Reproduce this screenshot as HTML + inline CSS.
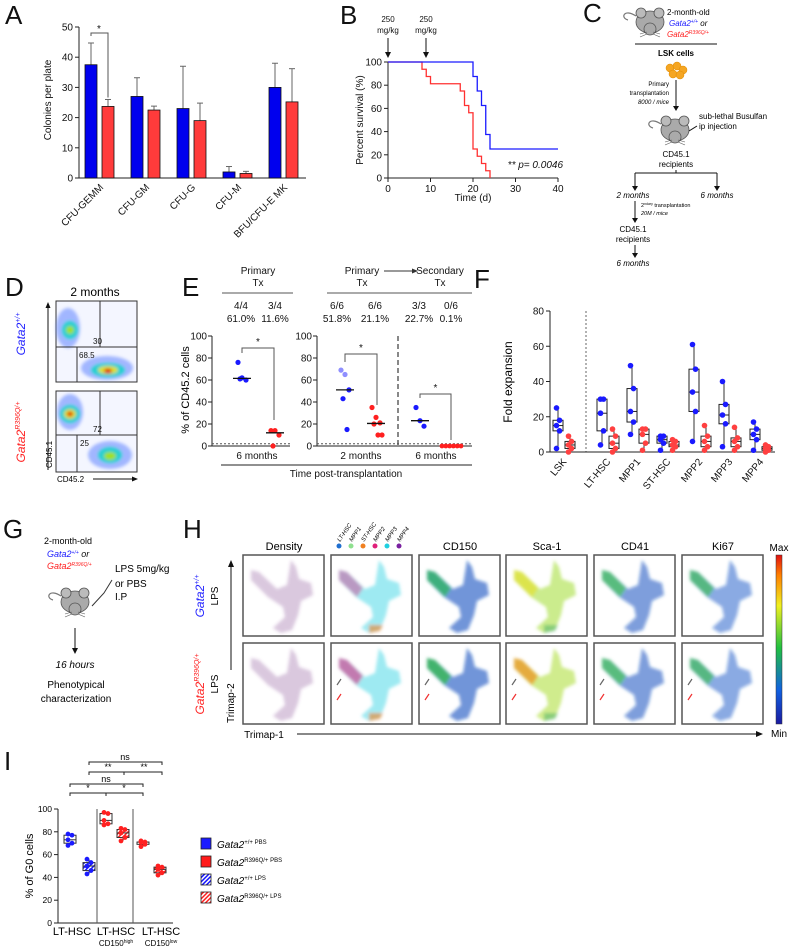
<!DOCTYPE html>
<html><head><meta charset="utf-8"><style>
html,body{margin:0;padding:0;background:#fff}
svg{display:block;font-family:"Liberation Sans",Arial,sans-serif}
.t{font-size:10px;fill:#111}
.s{font-size:8px;fill:#111}
.L{font-size:26px;fill:#111}
.ax{stroke:#222;stroke-width:1;fill:none}
.i{font-style:italic}
</style></head><body>
<svg id="fig" width="790" height="947" viewBox="0 0 790 947" xmlns="http://www.w3.org/2000/svg">
<defs>
<filter id="bl" x="-20%" y="-20%" width="140%" height="140%"><feGaussianBlur stdDeviation="1.6"/></filter>
<pattern id="hb" width="3" height="3" patternUnits="userSpaceOnUse" patternTransform="rotate(45)"><rect width="3" height="3" fill="#fff"/><rect width="1.5" height="3" fill="#1515ff"/></pattern>
<pattern id="hr" width="3" height="3" patternUnits="userSpaceOnUse" patternTransform="rotate(45)"><rect width="3" height="3" fill="#fff"/><rect width="1.5" height="3" fill="#ff2020"/></pattern>
<linearGradient id="cbar" x1="0" y1="1" x2="0" y2="0"><stop offset="0" stop-color="#1a1aa0"/><stop offset="0.2" stop-color="#1060e0"/><stop offset="0.45" stop-color="#20c040"/><stop offset="0.7" stop-color="#f0f020"/><stop offset="0.88" stop-color="#ff8000"/><stop offset="1" stop-color="#e01010"/></linearGradient>
<g id="mouse"><path d="M-14,-6 C-26,-14 -30,-4 -22,-2" stroke="#777" stroke-width="1.2" fill="none"/><ellipse cx="0" cy="0" rx="14" ry="11" fill="#aaa" stroke="#555" stroke-width="0.8"/><circle cx="-9" cy="-9" r="5" fill="#bbb" stroke="#555" stroke-width="0.8"/><circle cx="9" cy="-9" r="5" fill="#bbb" stroke="#555" stroke-width="0.8"/><ellipse cx="0" cy="7" rx="6" ry="6" fill="#aaa" stroke="#555" stroke-width="0.8"/><path d="M-10,12 L-3,10 M-10,15 L-3,12 M10,12 L3,10 M10,15 L3,12" stroke="#555" stroke-width="0.6"/></g>
<path id="cloud" d="M8,15 L16,17 L34,34 L44,30 L48,5 L53,12 L56,24 L68,28 L70,40 L58,46 L55,60 L49,75 L38,78 L30,73 L42,62 L40,52 L25,42 L8,25 Z"/>
</defs>

<text class="L" x="5" y="24">A</text>
<text class="L" x="340" y="24">B</text>
<text class="L" x="583" y="22">C</text>
<text class="L" x="5" y="296">D</text>
<text class="L" x="182" y="296">E</text>
<text class="L" x="474" y="288">F</text>
<text class="L" x="3" y="538">G</text>
<text class="L" x="183" y="538">H</text>
<text class="L" x="4" y="770">I</text>

<g id="pA">
<text class="t" transform="translate(51,100) rotate(-90)" text-anchor="middle" font-size="11">Colonies per plate</text>
</g>
<g id="pB">
<text class="t" transform="translate(363,120) rotate(-90)" text-anchor="middle">Percent survival (%)</text>
<text class="t" x="473" y="201" text-anchor="middle">Time (d)</text>
<text class="t i" x="563" y="168" text-anchor="end">** p= 0.0046</text>
<text class="s" x="388" y="22" text-anchor="middle">250</text>
<text class="s" x="388" y="33" text-anchor="middle">mg/kg</text>
<text class="s" x="426" y="22" text-anchor="middle">250</text>
<text class="s" x="426" y="33" text-anchor="middle">mg/kg</text>
<path d="M388,38 V55 M426,38 V55" stroke="#111" stroke-width="1"/>
<path d="M385,52 L388,58 L391,52 Z M423,52 L426,58 L429,52 Z" fill="#111"/>
</g>

<g id="pC" font-size="7.5">
<use href="#mouse" x="650" y="22"/>
<text x="667" y="15" font-size="8">2-month-old</text>
<text x="669" y="26" font-size="8" class="i"><tspan fill="#2020ff">Gata2</tspan><tspan fill="#2020ff" font-size="5" dy="-3">+/+</tspan><tspan dy="3"> or</tspan></text>
<text x="667" y="37" font-size="8" class="i" fill="#ff2020">Gata2<tspan font-size="5" dy="-3">R396Q/+</tspan></text>
<line x1="635" y1="44" x2="717" y2="44" stroke="#111"/>
<text x="676" y="56" font-size="8" font-weight="bold" text-anchor="middle">LSK cells</text>
<g fill="#f5a623" stroke="#e08a00" stroke-width="0.5"><circle cx="670" cy="68" r="4"/><circle cx="677" cy="66" r="4"/><circle cx="683" cy="70" r="4"/><circle cx="673" cy="74" r="4"/><circle cx="680" cy="75" r="4"/></g>
<path d="M676,80 V108" stroke="#111"/><path d="M673,106 L676,111 L679,106 Z" fill="#111"/>
<text x="669" y="86" font-size="6" text-anchor="end">Primary</text>
<text x="669" y="95" font-size="6" text-anchor="end">transplantation</text>
<text x="669" y="104" font-size="6" text-anchor="end" class="i">8000 / mice</text>
<use href="#mouse" x="675" y="130"/>
<text x="699" y="119" font-size="8">sub-lethal Busulfan</text>
<text x="699" y="129" font-size="8">ip injection</text>
<path d="M697,126 L689,131" stroke="#111"/>
<text x="676" y="157" font-size="8" text-anchor="middle">CD45.1</text>
<text x="676" y="167" font-size="8" text-anchor="middle">recipients</text>
<path d="M676,170 V173 M635,173 H717 M635,173 V188 M717,173 V188" stroke="#111" fill="none"/>
<path d="M632,186 L635,191 L638,186 Z M714,186 L717,191 L720,186 Z" fill="#111"/>
<text x="633" y="198" font-size="8" text-anchor="middle" class="i">2 months</text>
<text x="717" y="198" font-size="8" text-anchor="middle" class="i">6 months</text>
<path d="M635,201 V220" stroke="#111"/><path d="M632,218 L635,223 L638,218 Z" fill="#111"/>
<text x="641" y="207" font-size="5.5">2<tspan font-size="3.5" dy="-2">ndary</tspan><tspan dy="2"> transplantation</tspan></text>
<text x="641" y="215" font-size="5.5" class="i">20M / mice</text>
<text x="633" y="232" font-size="8" text-anchor="middle">CD45.1</text>
<text x="633" y="242" font-size="8" text-anchor="middle">recipients</text>
<path d="M635,245 V255" stroke="#111"/><path d="M632,253 L635,258 L638,253 Z" fill="#111"/>
<text x="633" y="266" font-size="8" text-anchor="middle" class="i">6 months</text>
</g>

<g id="pD">
<text x="95" y="296" font-size="12" text-anchor="middle">2 months</text>
<g>
<rect x="56" y="301" width="81" height="81" fill="#f4f6ff" stroke="#333"/>
<g filter="url(#bl)">
<ellipse cx="68" cy="328" rx="12" ry="20" fill="#6a8cff" opacity="0.6"/><ellipse cx="107" cy="368" rx="26" ry="12" fill="#6a8cff" opacity="0.6"/>
<ellipse cx="70" cy="330" rx="8" ry="9" fill="#20d0d0"/><ellipse cx="70" cy="330" rx="4" ry="4" fill="#a0e020"/>
<ellipse cx="108" cy="370" rx="17" ry="7" fill="#20d0d0"/><ellipse cx="108" cy="370" rx="10" ry="4" fill="#e0e020"/><ellipse cx="108" cy="371" rx="4" ry="2.5" fill="#e02010"/>
</g>
<path d="M100,301 V347 M56,347 H137 M77,347 V382" stroke="#333" fill="none"/>
<text x="93" y="344" class="s" font-size="9">30</text><text x="79" y="358" class="s" font-size="9">68.5</text>
</g>
<g>
<rect x="56" y="391" width="81" height="81" fill="#f4f6ff" stroke="#333"/>
<g filter="url(#bl)">
<ellipse cx="70" cy="412" rx="13" ry="18" fill="#6a8cff" opacity="0.6"/><ellipse cx="110" cy="455" rx="22" ry="14" fill="#6a8cff" opacity="0.6"/>
<ellipse cx="70" cy="414" rx="10" ry="9" fill="#20d0d0"/><ellipse cx="70" cy="414" rx="6" ry="5" fill="#e0e020"/><ellipse cx="70" cy="414" rx="3" ry="2.5" fill="#e02010"/>
<ellipse cx="110" cy="455" rx="12" ry="8" fill="#20d0d0"/><ellipse cx="110" cy="456" rx="6" ry="4" fill="#a0e020"/>
</g>
<path d="M100,391 V435 M56,435 H137 M77,435 V472" stroke="#333" fill="none"/>
<text x="93" y="432" class="s" font-size="9">72</text><text x="80" y="446" class="s" font-size="9">25</text>
</g>
<text transform="translate(25,334) rotate(-90)" font-size="12" class="i" fill="#2020ff" text-anchor="middle">Gata2<tspan font-size="7" dy="-5">+/+</tspan></text>
<text transform="translate(25,432) rotate(-90)" font-size="12" class="i" fill="#ff2020" text-anchor="middle">Gata2<tspan font-size="7" dy="-5">R396Q/+</tspan></text>
<text transform="translate(52,468) rotate(-90)" font-size="8">CD45.1</text>
<path d="M48,470 V305" stroke="#111"/><path d="M45.5,308 L48,302 L50.5,308 Z" fill="#111"/>
<text x="57" y="482" font-size="8">CD45.2</text>
<path d="M93,479 H135" stroke="#111"/><path d="M132,476.5 L138,479 L132,481.5 Z" fill="#111"/>
</g>

<g id="pE">
<text x="258" y="274" class="t" text-anchor="middle">Primary</text><text x="258" y="286" class="t" text-anchor="middle">Tx</text>
<line x1="222" y1="293" x2="293" y2="293" stroke="#555"/>
<text x="362" y="274" class="t" text-anchor="middle">Primary</text><text x="362" y="286" class="t" text-anchor="middle">Tx</text>
<path d="M384,271 H415" stroke="#333"/><path d="M412,268.5 L418,271 L412,273.5Z" fill="#333"/>
<text x="440" y="274" class="t" text-anchor="middle">Secondary</text><text x="440" y="286" class="t" text-anchor="middle">Tx</text>
<line x1="327" y1="293" x2="472" y2="293" stroke="#555"/>
<text x="346" y="477" class="t" text-anchor="middle" font-size="9.5">Time post-transplantation</text>
<line x1="221" y1="465" x2="472" y2="465" stroke="#222"/>
<text transform="translate(189,390) rotate(-90)" font-size="11" text-anchor="middle">% of CD45.2 cells</text>
<line x1="398" y1="336" x2="398" y2="446" stroke="#111" stroke-dasharray="5,3"/>
</g>

<g id="pF">
<text transform="translate(512,382) rotate(-90)" font-size="12" text-anchor="middle">Fold expansion</text>
<line x1="586" y1="311" x2="586" y2="452" stroke="#666" stroke-dasharray="2,2"/>
</g>

<g id="pG" font-size="9">
<text x="44" y="544">2-month-old</text>
<text x="47" y="557" class="i" fill="#2020ff">Gata2<tspan font-size="5" dy="-3">+/+</tspan><tspan fill="#111" dy="3"> or</tspan></text>
<text x="47" y="569" class="i" fill="#ff2020">Gata2<tspan font-size="5" dy="-3">R396Q/+</tspan></text>
<text x="115" y="572" font-size="10">LPS 5mg/kg</text>
<text x="115" y="587" font-size="10">or PBS</text>
<text x="115" y="600" font-size="10">I.P</text>
<path d="M112,580 L104,593 L92,606" stroke="#333" fill="none"/>
<use href="#mouse" x="75" y="602"/>
<path d="M75,628 V650" stroke="#111"/><path d="M72,648 L75,654 L78,648Z" fill="#111"/>
<text x="75" y="668" text-anchor="middle" class="i" font-size="10">16 hours</text>
<text x="76" y="688" text-anchor="middle" font-size="10">Phenotypical</text>
<text x="76" y="702" text-anchor="middle" font-size="10">characterization</text>
</g>

<g id="pH"></g>

<g id="pI">
<text transform="translate(33,866) rotate(-90)" font-size="11" text-anchor="middle">% of G0 cells</text>
</g>
</svg>

<script>
const NS="http://www.w3.org/2000/svg";
function mk(tag,attrs,parent){const e=document.createElementNS(NS,tag);for(const k in attrs)e.setAttribute(k,attrs[k]);parent.appendChild(e);return e;}

/* ---------- Panel A data ---------- */
const aCats=['CFU-GEMM','CFU-GM','CFU-G','CFU-M','BFU/CFU-E MK'];
const aBlue=[37.5,27,23,2,30];
const aBlueErr=[7.2,6.2,14,1.8,8];
const aRed=[23.7,22.5,19,1.5,25.2];
const aRedErr=[2.3,1.3,5.8,0.7,11];
const aTicks=[0,10,20,30,40,50];

/* ---------- Panel B data ---------- */
const bBlueT=[0,20,21,22,23,24,40];
const bBlueS=[100,87.5,75,62.5,37.5,25,25];
const bRedT=[0,8,9,10,17,18,19,20,21,22,23,24];
const bRedS=[100,93.75,87.5,81.25,75,62.5,56.25,25,18.75,12.5,6.25,0];
const bYTicks=[0,20,40,60,80,100];
const bXTicks=[0,10,20,30,40];

/* ---------- Panel E data ---------- */
const eGroupLabels=['6 months','2 months','6 months'];
const eFracs=['4/4','3/4','6/6','6/6','3/3','0/6'];
const ePcts=['61.0%','11.6%','51.8%','21.1%','22.7%','0.1%'];
const eP1Blue=[76,62,60,61];
const eP1Red=[14,14,10,0];
const eP2Blue=[69,65,51,43,15];
const eP2Red=[35,26,21,20,10,10];
const eSBlue=[35,23,18];
const eSRed=[0,0,0,0,0,0];
const eYTicks=[0,20,40,60,80,100];

/* ---------- Panel F data ---------- */
const fCats=['LSK','LT-HSC','MPP1','ST-HSC','MPP2','MPP3','MPP4'];
const fBlue=[[2,12,15,18,25],[4,12,22,30,30],[10,17,23,36,49],[1,5,7,9,9],[6,23,34,47,61],[3,16,21,27,40],[1,7,10,13,17]];
const fRed=[[0,2,4,6,9],[0,2,5,9,13],[1,5,10,13,13],[1,3,4,6,7],[1,3,6,9,15],[1,3,6,8,14],[0,1,2,3,4]];
const fTicks=[0,20,40,60,80];

/* ---------- Panel H data ---------- */
const hCols=['Density','','CD150','Sca-1','CD41','Ki67'];
const hClusters=['LT-HSC','MPP1','ST-HSC','MPP2','MPP3','MPP4'];
const hClusterColors=['#1f6fd0','#8fe08f','#f08020','#e0207a','#20d0e0','#7a20a0'];

/* ---------- Panel I data ---------- */
const iCats=['LT-HSC','LT-HSC','LT-HSC'];
const iSub=['','CD150','CD150'];
const iSubSup=['','high','low'];
const iBoxes=[[68,70,73,77,78],[43,46,50,53,56],[86,87,90,96,97],[72,75,79,82,83],[67,69,71,71,72],[42,44,47,49,50]];
const iKinds=['bp','bl','rp','rl','rp','rl'];
const iTicks=[0,20,40,60,80,100];
const iLegend=['+/+ PBS','R396Q/+ PBS','+/+ LPS','R396Q/+ LPS'];

(function(){
const g=document.getElementById('pA');
const yA=v=>178-v*3.02;
mk('path',{d:'M79,'+yA(50)+' V178 H306',class:'ax'},g);
aTicks.forEach(t=>{mk('line',{x1:75,x2:79,y1:yA(t),y2:yA(t),stroke:'#222'},g);
const tx=mk('text',{x:73,y:yA(t)+3.5,class:'t','text-anchor':'end'},g);tx.textContent=t;});
aCats.forEach((c,i)=>{
 const bx=85+i*46, rx=102+i*46;
 mk('line',{x1:bx+6,x2:bx+6,y1:yA(aBlue[i]),y2:yA(aBlue[i]+aBlueErr[i]),stroke:'#666'},g);
 mk('line',{x1:bx+3,x2:bx+9,y1:yA(aBlue[i]+aBlueErr[i]),y2:yA(aBlue[i]+aBlueErr[i]),stroke:'#666'},g);
 const b=mk('rect',{x:bx,y:yA(aBlue[i]),width:12,height:178-yA(aBlue[i]),fill:'#0000ee',stroke:'#111','stroke-width':0.8},g);
 
 
 mk('line',{x1:rx+6,x2:rx+6,y1:yA(aRed[i]),y2:yA(aRed[i]+aRedErr[i]),stroke:'#666'},g);
 mk('line',{x1:rx+3,x2:rx+9,y1:yA(aRed[i]+aRedErr[i]),y2:yA(aRed[i]+aRedErr[i]),stroke:'#666'},g);
 const r=mk('rect',{x:rx,y:yA(aRed[i]),width:12,height:178-yA(aRed[i]),fill:'#ff3b3b',stroke:'#111','stroke-width':0.8},g);
 
 
 const lx=rx+2;
 const tl=mk('text',{transform:'translate('+lx+',188) rotate(-45)',class:'t','text-anchor':'end'},g);tl.textContent=c;
 
 
});
const bt=yA(aBlue[0]+aBlueErr[0])-10;
mk('path',{d:'M91,'+(bt+3)+' V'+bt+' H108 V'+(yA(aRed[0]+aRedErr[0])-2),stroke:'#555',fill:'none'},g);
const st=mk('text',{x:99,y:bt-1,class:'t','text-anchor':'middle'},g);st.textContent='*';
})();

(function(){
const g=document.getElementById('pB');
const xB=t=>388+t*4.25, yB=v=>178-v*1.16;
mk('path',{d:'M388,'+yB(100)+' V178 H'+xB(40),class:'ax'},g);
bYTicks.forEach(t=>{mk('line',{x1:384,x2:388,y1:yB(t),y2:yB(t),stroke:'#222'},g);const e=mk('text',{x:382,y:yB(t)+3.5,class:'t','text-anchor':'end'},g);e.textContent=t;});
bXTicks.forEach(t=>{mk('line',{x1:xB(t),x2:xB(t),y1:178,y2:182,stroke:'#222'},g);const e=mk('text',{x:xB(t),y:192,class:'t','text-anchor':'middle'},g);e.textContent=t;});
function step(T,S){let d='M'+xB(T[0])+','+yB(S[0]);for(let i=1;i<T.length;i++){d+=' H'+xB(T[i])+' V'+yB(S[i]);}return d;}
const r=mk('path',{d:step(bRedT,bRedS),stroke:'#ff3030','stroke-width':1.3,fill:'none'},g);


const b=mk('path',{d:step(bBlueT,bBlueS),stroke:'#1a1aff','stroke-width':1.3,fill:'none'},g);


})();

(function(){
const g=document.getElementById('pE');
const yE=v=>446-v*1.1;
const colX=[241,275,337,375,419,451];
eFracs.forEach((f,i)=>{const t=mk('text',{x:colX[i],y:309,class:'t','text-anchor':'middle'},g);t.textContent=f;
const p=mk('text',{x:colX[i],y:322,class:'t','text-anchor':'middle'},g);p.textContent=ePcts[i];});
[212,317].forEach(ax=>{
 mk('path',{d:'M'+ax+','+yE(100)+' V446',class:'ax'},g);
 eYTicks.forEach(t=>{mk('line',{x1:ax-4,x2:ax,y1:yE(t),y2:yE(t),stroke:'#222'},g);const e=mk('text',{x:ax-5,y:yE(t)+3.5,class:'t','text-anchor':'end'},g);e.textContent=t;});
});
mk('line',{x1:212,x2:290,y1:446,y2:446,stroke:'#222'},g);
mk('line',{x1:317,x2:472,y1:446,y2:446,stroke:'#222'},g);
mk('line',{x1:212,x2:290,y1:yE(2),y2:yE(2),stroke:'#555','stroke-dasharray':'2,2'},g);
mk('line',{x1:317,x2:472,y1:yE(2),y2:yE(2),stroke:'#555','stroke-dasharray':'2,2'},g);
const lx=[257,361,436];
eGroupLabels.forEach((l,i)=>{const t=mk('text',{x:lx[i],y:459,class:'t','text-anchor':'middle'},g);t.textContent=l;});
function dots(vals,cx,col,name,light){
 vals.forEach((v,i)=>{const off=((i%3)-1)*4+(i>2?2:0);
  const c=mk('circle',{cx:cx+off,cy:yE(v),r:2.6,fill:(light&&light.includes(i))?'#8f8fff':col},g);
  
  });
 const m=vals.slice().sort((a,b)=>a-b);const med=m.length%2?m[(m.length-1)/2]:(m[m.length/2-1]+m[m.length/2])/2;
 mk('line',{x1:cx-9,x2:cx+9,y1:yE(med),y2:yE(med),stroke:'#111','stroke-width':1.3},g);
}
dots(eP1Blue,242,'#1a1aff','e-point-primary-wt');
dots(eP1Red,275,'#ff2020','e-point-primary-mut');
dots(eP2Blue,345,'#1a1aff','e-point-2m-wt',[0,1]);
dots(eP2Red,376,'#ff2020','e-point-2m-mut');
dots(eSBlue,420,'#1a1aff','e-point-secondary-wt');
eSRed.forEach((v,i)=>{const c=mk('circle',{cx:442+i*3.8,cy:yE(v),r:2.4,fill:'#ff2020'},g);
 
 });
function br(x1,x2,y,yl,yr){mk('path',{d:'M'+x1+','+yl+' V'+y+' H'+x2+' V'+yr,stroke:'#555',fill:'none'},g);const t=mk('text',{x:(x1+x2)/2,y:y-3,class:'t','text-anchor':'middle'},g);t.textContent='*';}
br(242,274,348,353,420);
br(345,377,354,362,405);
br(420,451,394,398,440);
})();

(function(){
const g=document.getElementById('pF');
const yF=v=>452-v*1.7625;
mk('path',{d:'M550,'+yF(80)+' V452 H775',class:'ax'},g);
fTicks.forEach(t=>{mk('line',{x1:546,x2:550,y1:yF(t),y2:yF(t),stroke:'#222'},g);const e=mk('text',{x:544,y:yF(t)+3.5,class:'t','text-anchor':'end'},g);e.textContent=t;});
const bxs=[558,602,632,662,694,724,755];
function box(b,cx,col,name){
 mk('line',{x1:cx,x2:cx,y1:yF(b[0]),y2:yF(b[4]),stroke:'#333'},g);
 const r=mk('rect',{x:cx-5,y:yF(b[3]),width:10,height:yF(b[1])-yF(b[3]),fill:'#fff',stroke:'#222'},g);
 
 
 mk('line',{x1:cx-5,x2:cx+5,y1:yF(b[2]),y2:yF(b[2]),stroke:'#222'},g);
 b.forEach((v,i)=>{mk('circle',{cx:cx+((i%2)?1.5:-1.5),cy:yF(v),r:2.8,fill:col},g);});
}
fCats.forEach((c,i)=>{
 box(fBlue[i],bxs[i],'#1a1aff','f-box-wt-'+c.toLowerCase());
 box(fRed[i],bxs[i]+12,'#ff4040','f-box-mut-'+c.toLowerCase());
 const t=mk('text',{transform:'translate('+(bxs[i]+9)+',462) rotate(-50)',class:'t','text-anchor':'end'},g);t.textContent=c;
 
 
});
})();

(function(){
const g=document.getElementById('pH');
const cx=[243,331,419,506,594,682];
const rows=[555,643];
hCols.forEach((c,i)=>{if(c){const t=mk('text',{x:cx[i]+41,y:550,'font-size':11,'text-anchor':'middle'},g);t.textContent=c;}});
hClusters.forEach((c,i)=>{const x=339+i*12;mk('circle',{cx:x,cy:546,r:2.5,fill:hClusterColors[i]},g);
 const t=mk('text',{transform:'translate('+(x+1)+',542) rotate(-55)','font-size':6,class:'i'},g);t.textContent=c;});
const palettes=[
 [['#7a3a8a',0.28]],
 [['#50d8e8',0.55],['#e0207a',0.4,'L'],['#f08020',0.6,'B']],
 [['#1050c0',0.6],['#20c040',0.6,'L']],
 [['#a8e040',0.6],['#e8e020',0.6,'L'],['#20a060',0.4,'B']],
 [['#1050c0',0.55],['#40d040',0.6,'L']],
 [['#1858c8',0.5],['#30c040',0.6,'L']]
];
const palettes2=[
 [['#7a3a8a',0.28]],
 [['#50d8e8',0.55],['#e0207a',0.55,'L'],['#f08020',0.6,'B']],
 [['#1050c0',0.6],['#30c040',0.7,'L']],
 [['#b0e040',0.6],['#f09020',0.7,'L'],['#20a060',0.4,'B']],
 [['#1050c0',0.55],['#40d040',0.6,'L']],
 [['#1858c8',0.5],['#30c040',0.6,'L']]
];
rows.forEach((ry,r)=>{
 cx.forEach((x,i)=>{
  const cell=mk('g',{},g);
  
  
  mk('rect',{x:x,y:ry,width:81,height:81,fill:'#fff',stroke:'#555','stroke-width':1.5},cell);
  const inner=mk('g',{transform:'translate('+x+','+ry+')',filter:'url(#bl)'},cell);
  (r?palettes2:palettes)[i].forEach(p=>{
   if(!p[2])mk('use',{href:'#cloud',fill:p[0],opacity:p[1]},inner);
   else if(p[2]==='L')mk('path',{d:'M8,15 L16,17 L32,33 L26,42 L8,25 Z',fill:p[0],opacity:p[1]},inner);
   else mk('path',{d:'M38,70 L52,70 L49,76 L38,78 Z',fill:p[0],opacity:p[1]},inner);
  });
  if(r===1&&i>0){mk('path',{d:'M'+(x+6)+','+(ry+42)+' l4,-6',stroke:'#666','stroke-width':1.2},cell);mk('path',{d:'M'+(x+6)+','+(ry+57)+' l4,-6',stroke:'#f03030','stroke-width':1.2},cell);}
 });
});
mk('rect',{x:776,y:555,width:6,height:169,fill:'url(#cbar)',stroke:'#333','stroke-width':0.5},g);
let t=mk('text',{x:779,y:551,'font-size':10,'text-anchor':'middle'},g);t.textContent='Max';
t=mk('text',{x:779,y:737,'font-size':10,'text-anchor':'middle'},g);t.textContent='Min';
t=mk('text',{x:264,y:738,'font-size':10,'text-anchor':'middle'},g);t.textContent='Trimap-1';
mk('line',{x1:297,x2:758,y1:734,y2:734,stroke:'#111'},g);mk('path',{d:'M756,731 L763,734 L756,737Z',fill:'#111'},g);
t=mk('text',{transform:'translate(234,723) rotate(-90)','font-size':10},g);t.textContent='Trimap-2';
mk('line',{x1:231,x2:231,y1:565,y2:670,stroke:'#111'},g);mk('path',{d:'M228,567 L231,560 L234,567Z',fill:'#111'},g);
t=mk('text',{transform:'translate(204,596) rotate(-90)','font-size':12,class:'i',fill:'#2020ff','text-anchor':'middle'},g);t.innerHTML='Gata2<tspan font-size="7" dy="-5">+/+</tspan>';
t=mk('text',{transform:'translate(218,596) rotate(-90)','font-size':10,'text-anchor':'middle'},g);t.textContent='LPS';
t=mk('text',{transform:'translate(204,684) rotate(-90)','font-size':12,class:'i',fill:'#ff2020','text-anchor':'middle'},g);t.innerHTML='Gata2<tspan font-size="7" dy="-5">R396Q/+</tspan>';
t=mk('text',{transform:'translate(218,684) rotate(-90)','font-size':10,'text-anchor':'middle'},g);t.textContent='LPS';
})();

(function(){
const g=document.getElementById('pI');
const yI=v=>923-v*1.14;
mk('path',{d:'M58,'+yI(100)+' V923 H173',class:'ax'},g);
mk('line',{x1:97,x2:97,y1:yI(100),y2:923,stroke:'#555'},g);
mk('line',{x1:133,x2:133,y1:yI(100),y2:923,stroke:'#555'},g);
iTicks.forEach(t=>{mk('line',{x1:54,x2:58,y1:yI(t),y2:yI(t),stroke:'#222'},g);const e=mk('text',{x:52,y:yI(t)+3,'font-size':8.5,'text-anchor':'end'},g);e.textContent=t;});
const bx=[70,89,106,123,143,160];
iBoxes.forEach((b,i)=>{
 const k=iKinds[i];const col=k[0]==='b'?'#1a1aff':'#ff2020';
 const fill=k[1]==='p'?'#fff':(k[0]==='b'?'url(#hb)':'url(#hr)');
 mk('line',{x1:bx[i],x2:bx[i],y1:yI(b[0]),y2:yI(b[4]),stroke:'#333'},g);
 const r=mk('rect',{x:bx[i]-6,y:yI(b[3]),width:12,height:yI(b[1])-yI(b[3]),fill:fill,stroke:'#333'},g);
 
 
 mk('line',{x1:bx[i]-6,x2:bx[i]+6,y1:yI(b[2]),y2:yI(b[2]),stroke:'#333'},g);
 b.forEach((v,j)=>{mk('circle',{cx:bx[i]+(j%2?2:-2),cy:yI(v),r:2.4,fill:col},g);});
});
const lx=[72,116,161];
iCats.forEach((c,i)=>{let t=mk('text',{x:lx[i],y:935,'font-size':11,'text-anchor':'middle'},g);t.textContent=c;
 if(iSub[i]){t=mk('text',{x:lx[i],y:946,'font-size':8,'text-anchor':'middle'},g);t.innerHTML=iSub[i]+'<tspan font-size="5" dy="-3">'+iSubSup[i]+'</tspan>';}});
function br(x1,x2,y,mid,labs){mk('path',{d:'M'+x1+','+(y+3)+' V'+y+' H'+x2+' V'+(y+3)+(mid?' M'+mid+','+y+' V'+(y+3):''),stroke:'#222',fill:'none'},g);
 labs.forEach(l=>{const t=mk('text',{x:l[0],y:y-2,'font-size':9,'text-anchor':'middle'},g);t.textContent=l[1];});}
br(70,143,793,106,[[88,'*'],[124,'*']]);
br(70,143,784,null,[[106,'ns']]);
br(89,162,772,124,[[108,'**'],[144,'**']]);
br(89,162,762,null,[[125,'ns']]);
const fills=['#1a1aff','#ff1a1a','url(#hb)','url(#hr)'];
iLegend.forEach((l,i)=>{const y=838+i*18;
 const r=mk('rect',{x:201,y:y,width:10,height:11,fill:fills[i],stroke:'#222','stroke-width':0.8},g);
 
 
 const t=mk('text',{x:217,y:y+10,'font-size':10,class:'i'},g);
 const parts=l.split(' ');t.innerHTML='Gata2<tspan font-size="6" dy="-4" font-style="normal">'+parts[0]+' '+parts[1]+'</tspan>';
 
 
});
})();
</script>
</body></html>
